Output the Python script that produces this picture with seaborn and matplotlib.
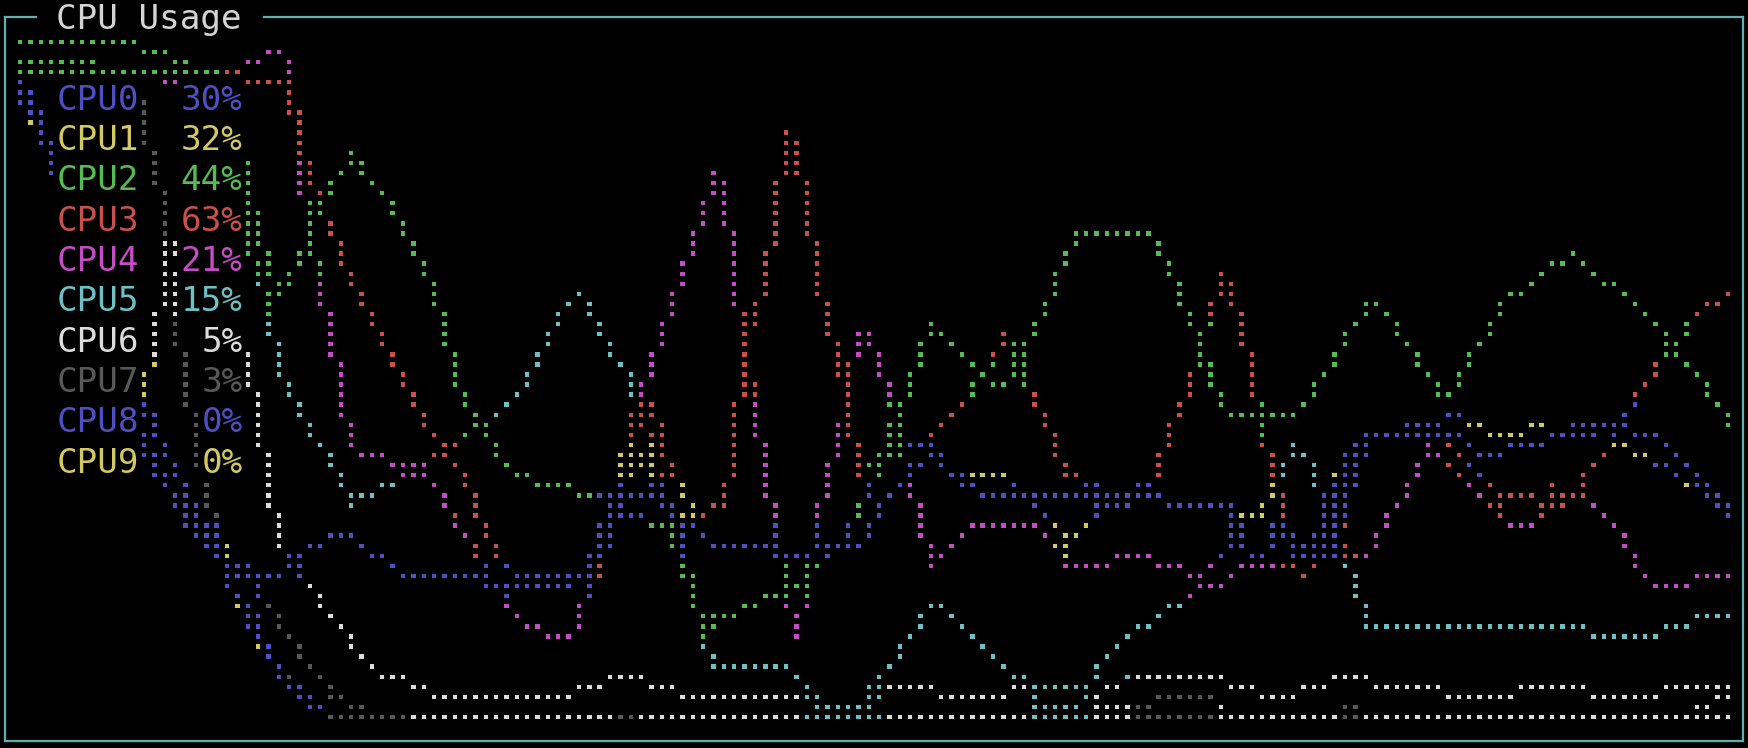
import numpy as np
import pandas as pd
import matplotlib
matplotlib.use("Agg")
import matplotlib.pyplot as plt
from matplotlib.lines import Line2D
import seaborn as sns

# ---- data: time in samples (one per braille dot column), usage in % ----
names = ["CPU0", "CPU1", "CPU2", "CPU3", "CPU4", "CPU5", "CPU6", "CPU7", "CPU8", "CPU9"]
colors = ["#4f4fc4", "#d2c864", "#55bb55", "#c9504b", "#c44cc4",
          "#6ec0c4", "#dcdcdc", "#585858", "#4f4fc4", "#d2c864"]
usage_now = [30, 32, 44, 63, 21, 15, 5, 3, 0, 0]

cpu0_t = [0, 1, 3, 12, 14, 16, 18, 20, 21, 25, 26, 28, 30, 32, 33, 35, 36, 38, 44, 46,
          52, 54, 55, 56, 57, 58, 61, 63, 64, 65, 66, 67, 72, 75, 77, 81, 82, 83, 85, 87,
          88, 89, 90, 92, 93, 110, 112, 116, 117, 118, 120, 121, 123, 124, 126, 127, 128, 129, 130, 137,
          138, 140, 142, 144, 147, 148, 152, 153, 158, 159, 160, 161, 162, 163, 164, 165]
cpu0_v = [94, 91, 84, 40, 34, 29, 25.3, 22.3, 20.8, 20.8, 22.3, 25.3, 26.8, 26.8, 25.3, 23.8, 22.3, 20.8, 20.8, 19.3,
          19.3, 20.8, 22.3, 26.8, 28.3, 32.7, 32.7, 31.2, 26.8, 28.3, 26.8, 25.3, 25.3, 23.8, 25.3, 25.3, 28.3, 32, 34.2, 37.2,
          40.3, 37.2, 35.7, 34.2, 32.7, 32.7, 31.2, 31.2, 28.3, 25.3, 23.8, 26.8, 26.8, 25.3, 23.8, 32.7, 35.7, 38.8, 41.8, 43.3,
          41.8, 40.3, 38.8, 40.3, 40.3, 41.8, 41.8, 43.3, 41.8, 40.3, 38.8, 37.2, 35.7, 32.7, 31.2, 30]

cpu1_t = [0, 1, 3, 12, 13, 15, 18, 20, 21, 25, 26, 28, 30, 32, 33, 35, 36, 38, 44, 46,
          52, 54, 55, 56, 57, 59, 60, 61, 63, 64, 65, 66, 67, 72, 75, 77, 81, 82, 83, 85,
          87, 88, 90, 92, 95, 97, 100, 101, 102, 104, 110, 112, 116, 119, 120, 121, 123, 125, 126, 127,
          128, 129, 130, 137, 138, 140, 142, 145, 146, 148, 152, 154, 155, 157, 159, 161, 163, 165]
cpu1_v = [93, 88, 82, 46, 43, 36, 27, 23.8, 22.3, 20.8, 22.3, 25.3, 26.8, 26.8, 25.3, 23.8, 22.3, 20.8, 20.8, 19.3,
          19.3, 20.8, 22.3, 26.8, 28.3, 37.2, 38.8, 34, 31.2, 29.8, 28.3, 26.8, 25.3, 25.3, 23.8, 25.3, 25.3, 28.3, 32, 34.2,
          37.2, 38.8, 35.7, 35.7, 35.7, 32.7, 28.3, 25.3, 26.8, 31.2, 32.7, 31.2, 31.2, 29.8, 29.8, 26.8, 26.8, 23.8, 31.2, 35.7,
          38.8, 40.3, 41.8, 43.3, 44.8, 43.3, 41.8, 41.8, 43.3, 41.8, 43.3, 41.8, 40.3, 38.8, 37.2, 34.2, 33, 32]

cpu2_t = [0, 11, 13, 18, 20, 21, 22, 23, 24, 25, 27, 29, 30, 32, 34, 35, 40, 41, 42, 43,
          44, 46, 48, 51, 55, 57, 58, 62, 63, 64, 65, 66, 67, 69, 71, 73, 75, 77, 81, 82,
          83, 85, 86, 87, 88, 90, 91, 93, 95, 96, 98, 102, 109, 112, 114, 116, 117, 123, 124, 130,
          131, 137, 138, 143, 150, 156, 161, 165]
cpu2_v = [100, 100, 98.5, 95.5, 93, 85, 79, 72, 66, 63, 68, 76, 79, 83.6, 79, 77, 62, 58, 51, 47,
          44.8, 39, 36, 34.5, 33, 32.7, 30, 28.3, 25.3, 22.3, 20, 12, 14.9, 14.9, 16.5, 17.9, 19.3, 22.3, 29.8, 34.2,
          37, 46, 50, 53.7, 58.2, 55.2, 53.7, 50.7, 49.3, 52, 58.2, 71.6, 71.6, 62.6, 55.2, 46.3, 44.8, 44.8, 46.3, 61.2,
          61.2, 47.8, 47.8, 61.2, 68.6, 61.2, 52.2, 44]

cpu3_t = [0, 20, 22, 26, 26.5, 27, 28.5, 30, 32, 33, 36, 39, 42, 44, 46, 48, 56, 57, 58, 59,
          60, 61, 62, 63, 65, 68, 69, 70, 72, 73, 74, 75, 76, 77, 78, 80, 81, 88, 90, 91,
          94, 95, 98, 99, 101, 105, 109, 110, 112, 113, 115, 116, 117, 118, 119, 121, 122, 123, 124, 126,
          127, 129, 131, 137, 140, 142, 143, 144, 146, 147, 148, 149, 151, 152, 153, 156, 158, 162, 163, 165]
cpu3_v = [96, 95, 94, 94, 90, 85, 78, 72, 64, 61, 52, 44, 37, 31, 24, 21, 21, 30, 36, 40,
          46, 46, 40, 36, 30, 31, 40, 55, 65, 74, 86.6, 84, 75, 66, 58, 46, 36, 41.8, 44.8, 46.3,
          53.7, 56.7, 47, 44, 36, 33, 34, 37, 46, 50, 59.7, 66, 64, 57, 51, 36, 31, 22.3, 21, 24,
          26, 38, 42, 42, 38, 34, 31, 32.7, 32.7, 30, 34, 31, 35.7, 37, 39.5, 47.8, 52, 59.7, 61, 62.6]

cpu4_t = [0, 13, 15, 20, 22, 24, 25, 26, 27, 29, 30, 31, 32, 39, 40, 41, 42, 43, 47, 48,
          50, 52, 53, 54, 57, 60, 62, 64, 66, 67, 68, 69, 71, 72, 73, 74.5, 75, 77, 78, 79,
          80, 81.5, 82, 83, 84, 87, 88, 89, 90, 92, 98, 99, 101, 102, 105, 106, 109, 110, 112, 113,
          116, 117, 118, 128, 130, 136, 140, 144, 145, 150, 151, 153, 155, 157, 158, 161, 162, 165]
cpu4_v = [96, 95, 94, 95.5, 97, 98.5, 98.5, 96, 81, 63, 57, 48, 40, 35.7, 34.2, 31.5, 28.3, 26.8, 16.4, 14.9,
          13.4, 11.9, 11.9, 15, 32, 48.5, 57, 65, 74.5, 80.7, 79, 66, 45, 36, 29, 12, 12, 30, 36, 40.3,
          50, 59.7, 57, 51, 47.8, 28.3, 22.3, 24, 25, 28.3, 28.3, 26.8, 23, 22.3, 22.3, 23.8, 23.8, 22.3, 22.3, 20.8,
          19.3, 20.8, 22.3, 23.8, 23.8, 40.3, 34, 28, 28, 32.7, 32.7, 30, 25.3, 20.8, 19.3, 19.3, 20.8, 20.8]

cpu5_t = [0, 21, 22, 24, 25, 26, 27, 28, 30, 31, 32, 34, 36, 43, 46, 48, 50, 52, 53, 54,
          55, 57, 59, 66, 67, 74, 75, 77, 81, 82, 84, 86, 87, 88, 89, 90, 92, 94, 95, 96,
          98, 102, 103, 104, 106, 108, 109, 110, 111, 112, 122, 123, 124, 125, 127, 128, 129, 130, 151, 152,
          158, 159, 161, 162, 165]
cpu5_v = [97, 95, 70, 60, 52, 47.8, 45, 42, 38, 34.5, 31.5, 32.7, 34.5, 42, 45, 48.5, 53.7, 59.7, 61.2, 62.5,
          59.7, 54, 50, 12, 7.4, 7.4, 6, 1.5, 1.5, 4.5, 8, 12.5, 14.9, 16.4, 16.4, 14.9, 11.9, 8.9, 7.4, 6,
          4.5, 4.5, 3, 7.4, 10.4, 13.4, 13.4, 14.9, 16.4, 16.4, 36, 41, 39, 35.7, 28, 22.3, 19, 13.4, 13.4, 11.9,
          11.9, 13.4, 13.4, 14.9, 14.9]

cpu6_t = [0, 3, 11, 12, 13, 14, 15, 16, 22, 23, 24, 25, 29, 31, 33, 34, 36, 38, 40, 53,
          54, 56, 57, 60, 61, 63, 64, 76, 77, 82, 83, 88, 89, 95, 96, 97, 98, 102, 103, 108,
          116, 117, 119, 120, 123, 124, 126, 127, 130, 131, 137, 138, 144, 145, 151, 152, 158, 159, 165]
cpu6_v = [94, 84, 42, 47, 56, 65, 70, 69, 53, 44, 36, 26, 16.4, 13.4, 8.9, 7.4, 6, 4.5, 3, 3,
          4.5, 4.5, 6, 6, 4.5, 4.5, 3, 3, 1.5, 1.5, 4.5, 4.5, 3, 3, 4.5, 4.5, 1.5, 1.5, 3, 6,
          6, 4.5, 4.5, 3, 3, 4.5, 4.5, 6, 6, 4.5, 4.5, 3, 3, 4.5, 4.5, 3, 3, 4.5, 4.5]

cpu7_t = [0, 11, 12, 13, 14, 15, 16, 17, 18, 20, 24, 25, 27, 29, 30, 32, 34, 103, 104, 109,
          110, 115, 116, 117, 127, 128, 129, 130, 161, 163, 165]
cpu7_v = [95, 95, 88, 80, 74, 57, 51, 41, 32, 24, 16.4, 14, 9, 6, 3, 1.5, 0, 0, 1.5, 1.5,
          3, 3, 1.5, 0, 0, 1.5, 1.5, 0, 0, 1.5, 3]

cpu8_t = [0, 1, 3, 12, 13, 15, 16, 18, 19, 20, 22, 23, 24, 25, 27, 28, 29, 30, 165]
cpu8_v = [94, 91, 84, 38.8, 35.7, 33, 29.8, 27, 25.3, 20, 16.4, 13, 8.9, 6.5, 4, 3, 1.5, 0, 0]

cpu9_t = [0, 1, 3, 12, 13, 14, 15, 18, 20, 21, 23, 26, 27, 28, 30, 165]
cpu9_v = [93, 88, 82, 46.3, 43, 39, 35.7, 28, 21, 16, 10.4, 4.5, 3, 1.5, 0, 0]

times = [cpu0_t, cpu1_t, cpu2_t, cpu3_t, cpu4_t, cpu5_t, cpu6_t, cpu7_t, cpu8_t, cpu9_t]
values = [cpu0_v, cpu1_v, cpu2_v, cpu3_v, cpu4_v, cpu5_v, cpu6_v, cpu7_v, cpu8_v, cpu9_v]

# ---- braille canvas: 2x4 dots per terminal cell, one colour per cell ----
n_cols = 166
n_rows = 68
cols = np.arange(n_cols)


def to_row(v):
    return np.rint((100 - np.asarray(v)) * (n_rows - 1) / 100).astype(int)


owner = {}
all_dots = set()
for i in reversed(range(len(names))):  # CPU9 first, CPU0 drawn last
    rows = to_row(np.interp(cols, times[i], values[i]))
    pts = {(0, rows[0])}
    for c in range(1, n_cols):
        r0, r1 = rows[c - 1], rows[c]
        n = abs(r1 - r0)
        step = 1 if r1 > r0 else -1
        for k in range(1, n + 1):
            cc = c - 1 if k / n < 0.5 else c
            pts.add((cc, r0 + k * step))
        pts.add((c, r1))
    for c, r in pts:
        owner[(c // 2, r // 4)] = i
    all_dots |= pts

# cells covered by the legend text
hidden = set()
for i, name in enumerate(names):
    pct = f"{usage_now[i]}%"
    for j in range(2, 2 + len(name)):
        hidden.add((j, i + 1))
    for j in range(11 - len(pct), 11):
        hidden.add((j, i + 1))

rec = []
for c, r in sorted(all_dots):
    cell = (c // 2, r // 4)
    if cell in hidden:
        continue
    rec.append({"t": c, "pct": 100 - r * 100 / (n_rows - 1), "cpu": names[owner[cell]]})
df = pd.DataFrame(rec)

# ---- figure ----
W, H = 1748, 748
fig = plt.figure(figsize=(W / 100, H / 100), dpi=100, facecolor="black")
ax = fig.add_axes([20 / W, (H - 717) / H, (1728 - 20) / W, (717 - 42) / H])
ax.set_facecolor("black")

sns.scatterplot(data=df, x="t", y="pct", hue="cpu", hue_order=names,
                palette=dict(zip(names, colors)), marker="s", s=10,
                linewidth=0, legend=False, ax=ax)
for coll in ax.collections:
    coll.set_clip_on(False)
ax.set_xlim(0, n_cols - 1)
ax.set_ylim(0, 100)
ax.axis("off")

mono = "DejaVu Sans Mono"
fs = 24.7


def baseline(cell_row):
    return 100 - (4 * cell_row + 2.74) * 100 / (n_rows - 1)


for i, name in enumerate(names):
    ax.text(3.5, baseline(i + 1), name, color=colors[i], family=mono, fontsize=fs,
            ha="left", va="baseline", clip_on=False)
    ax.text(21.5, baseline(i + 1), f"{usage_now[i]}%", color=colors[i], family=mono,
            fontsize=fs, ha="right", va="baseline", clip_on=False)

ax.text(3.5, baseline(-1), "CPU Usage", color="#d4d4d4", family=mono, fontsize=fs,
        ha="left", va="baseline", clip_on=False)

# ---- box border with gap for the title ----
bc = "#5fb0b0"
top, bot, lft, rgt = H - 17, 7, 5, 1743
segs = [((lft, 36), (top, top)), ((264, rgt), (top, top)),
        ((lft, lft), (top, bot)), ((rgt, rgt), (top, bot)), ((lft, rgt), (bot, bot))]
for xs, ys in segs:
    fig.add_artist(Line2D([x / W for x in xs], [y / H for y in ys],
                          transform=fig.transFigure, color=bc, lw=1.6))

fig.savefig("out.png", dpi=100, facecolor="black")
